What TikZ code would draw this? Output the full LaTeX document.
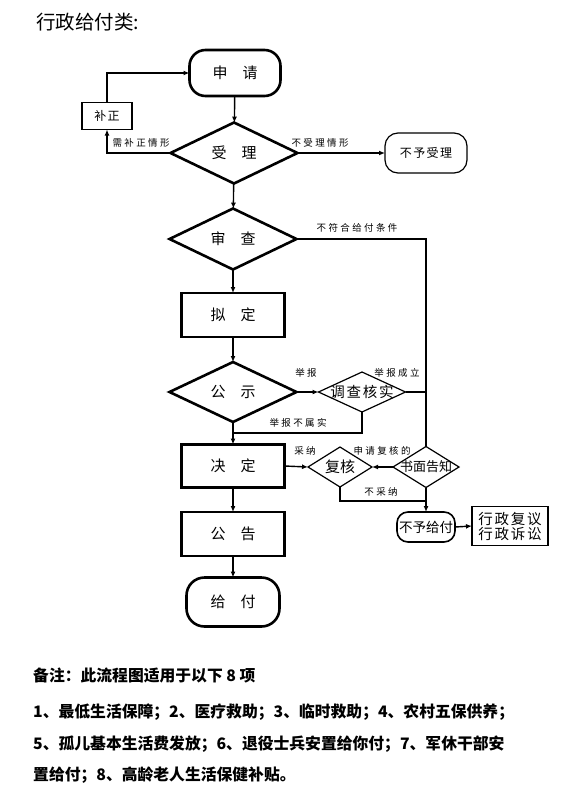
\documentclass[tikz,border=0pt]{standalone}
\usepackage{fontspec}
\newfontfamily\cjk{Noto Sans CJK SC}
\newfontfamily\cjksp[LetterSpace=25]{Noto Sans CJK SC}
\newfontfamily\cjkmd[LetterSpace=12]{Noto Sans CJK SC}
\usetikzlibrary{shapes.geometric,arrows.meta}
\begin{document}
\begin{tikzpicture}[x=1pt,y=-1pt,
  base/.style={inner sep=0pt, outer sep=0pt, align=center},
  mainfont/.style={font=\cjk\fontsize{15}{15}\selectfont},
  thickbox/.style={base, mainfont, draw, line width=2.6pt, minimum width=103pt, minimum height=44pt},
  thickterm/.style={base, mainfont, draw, line width=2.6pt, rounded corners=16pt, minimum width=91pt, minimum height=46pt},
  thickdia/.style={base, mainfont, draw, diamond, line width=2.6pt, minimum width=127pt, minimum height=61pt},
  thindia/.style={base, draw, diamond, line width=1.2pt},
  thinbox/.style={base, draw, line width=1.2pt},
  lab/.style={inner sep=0pt, font=\cjksp\fontsize{9.5}{9.5}\selectfont},
  conn/.style={line width=1.4pt},
  arr/.style={conn, -{Latex[length=6pt,width=5pt]}},
  note/.style={anchor=west, inner sep=0pt, font=\cjk\bfseries\fontsize{15.8}{15.8}\selectfont}
]
\useasboundingbox (0,0) rectangle (586,800);

\node[anchor=west, inner sep=0pt, font=\cjk\fontsize{19.5}{19.5}\selectfont] (title) at (36,22) {行政给付类:};

% main column
\node[thickterm] (shenqing) at (235,73) {申\hspace{1em}请};
\node[thickdia] (shouli) at (234,153) {受\hspace{1em}理};
\node[thickdia] (shencha) at (233,239) {审\hspace{1em}查};
\node[thickbox] (niding) at (233,315) {拟\hspace{1em}定};
\node[thickdia, minimum height=60pt] (gongshi) at (233,392) {公\hspace{1em}示};
\node[thickbox, minimum height=43pt] (jueding) at (233,466) {决\hspace{1em}定};
\node[thickbox] (gonggao) at (233,534) {公\hspace{1em}告};
\node[thickterm, minimum width=93pt, minimum height=49pt, rounded corners=18pt] (geifu) at (233,602) {给\hspace{1em}付};

% side nodes
\node[thinbox, minimum width=50pt, minimum height=27pt, font=\cjkmd\fontsize{12}{12}\selectfont] (buzheng) at (107,116) {补正};
\node[thinbox, rounded corners=13pt, minimum width=82pt, minimum height=40pt, font=\cjkmd\fontsize{12}{12}\selectfont] (buyushouli) at (426,153) {不予受理};
\node[thindia, minimum width=87pt, minimum height=40pt,
  label={[inner sep=0pt, font=\cjkmd\fontsize{14.5}{14.5}\selectfont]center:调查核实}] (diaocha) at (362,392) {};
\node[thindia, minimum width=64pt, minimum height=40pt,
  label={[inner sep=0pt, font=\cjk\fontsize{15}{15}\selectfont]center:复核}] (fuhe) at (340,467) {};
\node[thindia, minimum width=66pt, minimum height=41pt,
  label={[inner sep=0pt, font=\cjk\fontsize{13}{13}\selectfont]center:书面告知}] (shumian) at (426,467) {};
\node[thinbox, line width=1.6pt, rounded corners=11pt, minimum width=58pt, minimum height=30pt, font=\cjk\fontsize{13.5}{13.5}\selectfont] (buyugeifu) at (426,527) {不予给付};
\node[thinbox, minimum width=76pt, minimum height=39pt, font=\cjkmd\fontsize{14.5}{16}\selectfont] (fuyi) at (510,526) {行政复议\\[-1pt]行政诉讼};

% main arrows
\draw[arr] (shenqing) -- (shouli);
\draw[arr] (shouli) -- (shencha);
\draw[arr] (shencha) -- (niding);
\draw[arr] (niding) -- (gongshi);
\draw[arr] (gongshi) -- (jueding);
\draw[arr] (jueding) -- (gonggao);
\draw[arr] (gonggao) -- (geifu);

% buzheng loop
\draw[arr] (shouli.west) -| (buzheng.south);
\draw[arr] (buzheng.north) |- (shenqing.west);
\node[lab] (l1) at (141,143) {需补正情形};

% not accepted
\draw[arr] (shouli.east) -- (buyushouli.west);
\node[lab] (l2) at (320,143) {不受理情形};

% not eligible
\draw[conn] (shencha.east) -| (shumian.north);
\node[lab] (l3) at (357,228) {不符合给付条件};

% report
\draw[arr] (gongshi.east) -- (diaocha.west);
\node[lab] (l4) at (306,373) {举报};
\draw[conn] (diaocha.east) -- (diaocha.east -| shumian.north);
\node[lab] (l5) at (397,373) {举报成立};
\coordinate (j1) at (233,433);
\draw[conn] (diaocha.south) |- (j1);
\node[lab] (l6) at (298,423) {举报不属实};

% review
\draw[arr] (jueding.east) -- (fuhe.west);
\node[lab] (l7) at (305,451) {采纳};
\draw[arr] (shumian.west) -- (fuhe.east);
\node[lab] (l8) at (382,451) {申请复核的};
\coordinate (j2) at (426,501);
\draw[conn] (fuhe.south) |- (j2);
\node[lab] (l9) at (381,492) {不采纳};
\draw[arr] (shumian.south) -- (buyugeifu.north);
\draw[arr] (buyugeifu.east) -- (fuyi.west);

% notes
\node[note] (n1) at (33,675) {备注：此流程图适用于以下 8 项};
\node[note] (n2) at (33,712) {1、最低生活保障；2、医疗救助；3、临时救助；4、农村五保供养；};
\node[note] (n3) at (33,744) {5、孤儿基本生活费发放；6、退役士兵安置给你付；7、军休干部安};
\node[note] (n4) at (33,775) {置给付；8、高龄老人生活保健补贴。};
\end{tikzpicture}
\end{document}
